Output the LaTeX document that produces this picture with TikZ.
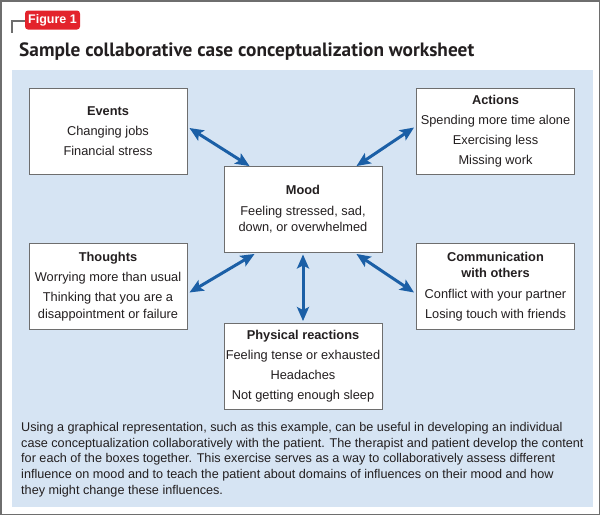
\documentclass[tikz,border=0pt]{standalone}
\usepackage{fontspec}
\setmainfont{Liberation Sans}
\newfontfamily\titlefont{PT Sans}
\usetikzlibrary{arrows.meta,calc}
\definecolor{panelblue}{HTML}{D6E4F3}
\definecolor{arrowblue}{HTML}{1B5FA6}
\definecolor{framegray}{HTML}{6E6E6E}
\definecolor{figred}{HTML}{E3232C}
\definecolor{txt}{HTML}{231F20}
\begin{document}
\begin{tikzpicture}[x=1pt,y=-1pt,
  box/.style={draw=framegray, line width=0.9pt, fill=white, minimum width=158pt,
    minimum height=86pt, align=center, font=\fontsize{12.8}{16.5}\selectfont,
    text=txt, inner sep=0pt},
  link/.style={arrowblue, line width=3pt,
    {Stealth[length=14pt,width=12pt,inset=3pt]}-{Stealth[length=14pt,width=12pt,inset=3pt]}}]
\useasboundingbox (0,0) rectangle (600,515);
% outer frame and panel
\draw[framegray, line width=1.5pt] (0.75,0.75) rectangle (599.25,514.25);
\fill[panelblue] (12,70) rectangle (593,507);
% figure label
\node[fill=figred, rounded corners=3pt, text=white,
  font=\bfseries\fontsize{12.5}{14}\selectfont, minimum width=55pt,
  minimum height=19pt, inner sep=0pt] (fig) at (52.5,20) {Figure 1};
\draw[framegray, line width=1.3pt] ($(fig.west)+(0,1)$) -| (12,33);
% title
\node[anchor=base west, inner sep=0pt, text=txt,
  font=\titlefont\bfseries\fontsize{19.3}{24}\selectfont] (title) at (19,56)
  {Sample collaborative case conceptualization worksheet};
% boxes
\node[box] (ev) at (108,131.5) {\textbf{Events}\\[3.5pt]Changing jobs\\[3.5pt]Financial stress};
\node[box] (ac) at (495.5,131.5) {\textbf{Actions}\\[3.5pt]Spending more time alone\\[3.5pt]Exercising less\\[3.5pt]Missing work};
\node[box] (mo) at (303,209.5) {\textbf{Mood}\\[4pt]Feeling stressed, sad,\\down, or overwhelmed};
\node[box] (th) at (108,286.5) {\textbf{Thoughts}\\[3.5pt]Worrying more than usual\\[3.5pt]Thinking that you are a\\disappointment or failure};
\node[box] (co) at (495.5,286.5) {\textbf{Communication}\\\textbf{with others}\\[4.5pt]Conflict with your partner\\[3.5pt]Losing touch with friends};
\node[box] (ph) at (303,366) {\textbf{Physical reactions}\\[3.5pt]Feeling tense or exhausted\\[3.5pt]Headaches\\[3.5pt]Not getting enough sleep};
% connectors
\draw[link] ($(ev.east)+(2,-3.5)$) -- ($(mo.north west)+(26,0)$);
\draw[link] ($(ac.west)+(-2,-4)$) -- ($(mo.north east)+(-26,0)$);
\draw[link] ($(th.east)+(2,6)$) -- ($(mo.south west)+(31,1)$);
\draw[link] ($(co.west)+(-2,6)$) -- ($(mo.south east)+(-26,1)$);
\draw[link] ($(mo.south)+(0,1.5)$) -- ($(ph.north)+(0,-1.5)$);
% caption
\node[anchor=north west, align=left, inner sep=0pt, text=txt,
  font=\fontsize{12.65}{15.75}\selectfont] (para) at (21,422)
  {Using a graphical representation, such as this example, can be useful in developing an individual\\
   case conceptualization collaboratively with the patient. The therapist and patient develop the content\\
   for each of the boxes together. This exercise serves as a way to collaboratively assess different\\
   influence on mood and to teach the patient about domains of influences on their mood and how\\
   they might change these influences.};
\end{tikzpicture}
\end{document}
